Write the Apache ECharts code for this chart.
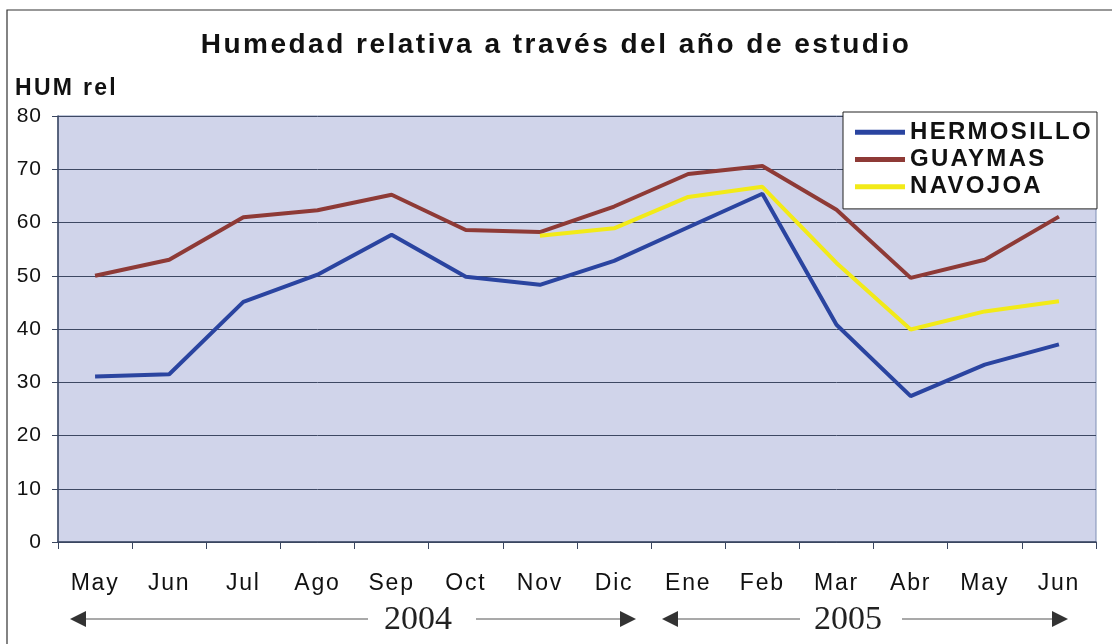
<!DOCTYPE html>
<html>
<head>
<meta charset="utf-8">
<style>
  html, body { margin: 0; padding: 0; background: #ffffff; }
  #chart { width: 1112px; height: 644px; }
</style>
<script src="https://cdn.jsdelivr.net/npm/echarts@6/dist/echarts.min.js"></script>
</head>
<body>
<div id="chart"></div>
<script>
// Monthly relative humidity (%) for three Sonora stations, May 2004 - Jun 2005
const months = ['May', 'Jun', 'Jul', 'Ago', 'Sep', 'Oct', 'Nov', 'Dic', 'Ene', 'Feb', 'Mar', 'Abr', 'May', 'Jun'];
const hermosillo = [31.1, 31.5, 45.1, 50.2, 57.7, 49.8, 48.3, 52.8, 59.1, 65.4, 40.8, 27.4, 33.3, 37.1];
const guaymas = [50.0, 53.0, 61.0, 62.3, 65.2, 58.6, 58.2, 63.0, 69.1, 70.6, 62.4, 49.6, 53.0, 61.1];
const navojoa = [null, null, null, null, null, null, 57.5, 58.9, 64.8, 66.7, 52.4, 39.9, 43.3, 45.2];
const yTicks = { min: 0, max: 80, step: 10 };
const years = ['2004', '2005'];

// Wider letter tracking for the sans-serif labels (keyed by font weight/size).
const tracking = [
  { re: /bold 28px/, px: 2.5 },
  { re: /bold 2[34]px/, px: 2.3 },
  { re: /(^|\s)23px/, px: 1.8 },
  { re: /(^|\s)21px/, px: 1.0 }
];
(function () {
  const proto = CanvasRenderingContext2D.prototype;
  if (!('letterSpacing' in proto)) return;
  const spacingFor = function (font) {
    for (const t of tracking) if (t.re.test(font)) return t.px + 'px';
    return '0px';
  };
  const fill = proto.fillText;
  const measure = proto.measureText;
  proto.fillText = function () { this.letterSpacing = spacingFor(this.font); return fill.apply(this, arguments); };
  proto.measureText = function () { this.letterSpacing = spacingFor(this.font); return measure.apply(this, arguments); };
})();

const chart = echarts.init(document.getElementById('chart'), null, { renderer: 'canvas' });

const sans = 'Liberation Sans, Arial, sans-serif';
const serif = 'Liberation Serif, Times New Roman, serif';

function lineSeries(name, data, color) {
  return {
    name: name,
    type: 'line',
    data: data,
    symbol: 'none',
    connectNulls: false,
    lineStyle: { color: color, width: 4 },
    itemStyle: { color: color },
    emphasis: { disabled: true },
    z: 3
  };
}

// Double-headed "year" arrows drawn under the month labels
function arrow(x1, x2, y, dir) {
  const head = dir < 0
    ? [[x1, y], [x1 + 16, y - 8], [x1 + 16, y + 8]]
    : [[x2, y], [x2 - 16, y - 8], [x2 - 16, y + 8]];
  return [
    { type: 'line', shape: { x1: dir < 0 ? x1 + 14 : x1, y1: y, x2: dir < 0 ? x2 : x2 - 14, y2: y },
      style: { stroke: '#555', lineWidth: 1.2 } },
    { type: 'polygon', shape: { points: head }, style: { fill: '#333' } }
  ];
}

const graphics = [
  // outer frame (left and top edges)
  { type: 'polyline', shape: { points: [[7, 650], [7, 10], [1115, 10]] },
    style: { stroke: '#333', lineWidth: 1.2, fill: null } },
  { type: 'text', left: 15, top: 76,
    style: { text: 'HUM rel', font: 'bold 23px ' + sans, fill: '#111' } },
  { type: 'text', x: 418, y: 620,
    style: { text: years[0], font: '34px ' + serif, fill: '#222', textAlign: 'center', textVerticalAlign: 'middle' } },
  { type: 'text', x: 848, y: 620,
    style: { text: years[1], font: '34px ' + serif, fill: '#222', textAlign: 'center', textVerticalAlign: 'middle' } }
].concat(
  arrow(70, 368, 619, -1),
  arrow(476, 636, 619, 1),
  arrow(662, 800, 619, -1),
  arrow(902, 1068, 619, 1)
);

chart.setOption({
  animation: false,
  backgroundColor: '#ffffff',
  title: {
    text: 'Humedad relativa a través del año de estudio',
    left: 'center',
    top: 25,
    textStyle: { fontFamily: sans, fontWeight: 'bold', fontSize: 28, color: '#111' }
  },
  legend: {
    orient: 'vertical',
    left: 843,
    top: 112,
    padding: [7, 4, 9, 12],
    itemGap: 1,
    itemWidth: 50,
    itemHeight: 5,
    icon: 'rect',
    backgroundColor: '#ffffff',
    borderColor: '#222',
    borderWidth: 1,
    borderRadius: 0,
    selectedMode: false,
    textStyle: { fontFamily: sans, fontWeight: 'bold', fontSize: 24, color: '#111', padding: [0, 0, 0, 0] },
    data: ['HERMOSILLO', 'GUAYMAS', 'NAVOJOA']
  },
  grid: {
    left: 58, top: 116, right: 16, bottom: 102,
    show: true,
    backgroundColor: '#D0D4EA',
    borderColor: '#7f8fb5',
    borderWidth: 1
  },
  xAxis: {
    type: 'category',
    data: months,
    boundaryGap: true,
    axisLine: { show: true, lineStyle: { color: '#3a4660', width: 1.5 } },
    axisTick: { show: true, length: 7, lineStyle: { color: '#3a4660' } },
    axisLabel: { fontFamily: sans, fontSize: 23, color: '#111', margin: 29 },
    splitLine: { show: false }
  },
  yAxis: {
    type: 'value',
    min: yTicks.min,
    max: yTicks.max,
    interval: yTicks.step,
    axisLine: { show: true, lineStyle: { color: '#3a4660', width: 1.5 } },
    axisTick: { show: true, length: 6, lineStyle: { color: '#3a4660' } },
    axisLabel: { fontFamily: sans, fontSize: 21, color: '#111', margin: 16 },
    splitLine: { show: true, lineStyle: { color: '#3d4863', width: 1 } }
  },
  series: [
    lineSeries('HERMOSILLO', hermosillo, '#2A44A0'),
    lineSeries('GUAYMAS', guaymas, '#8E3A36'),
    lineSeries('NAVOJOA', navojoa, '#F2EA18')
  ],
  graphic: graphics
});
</script>
</body>
</html>
